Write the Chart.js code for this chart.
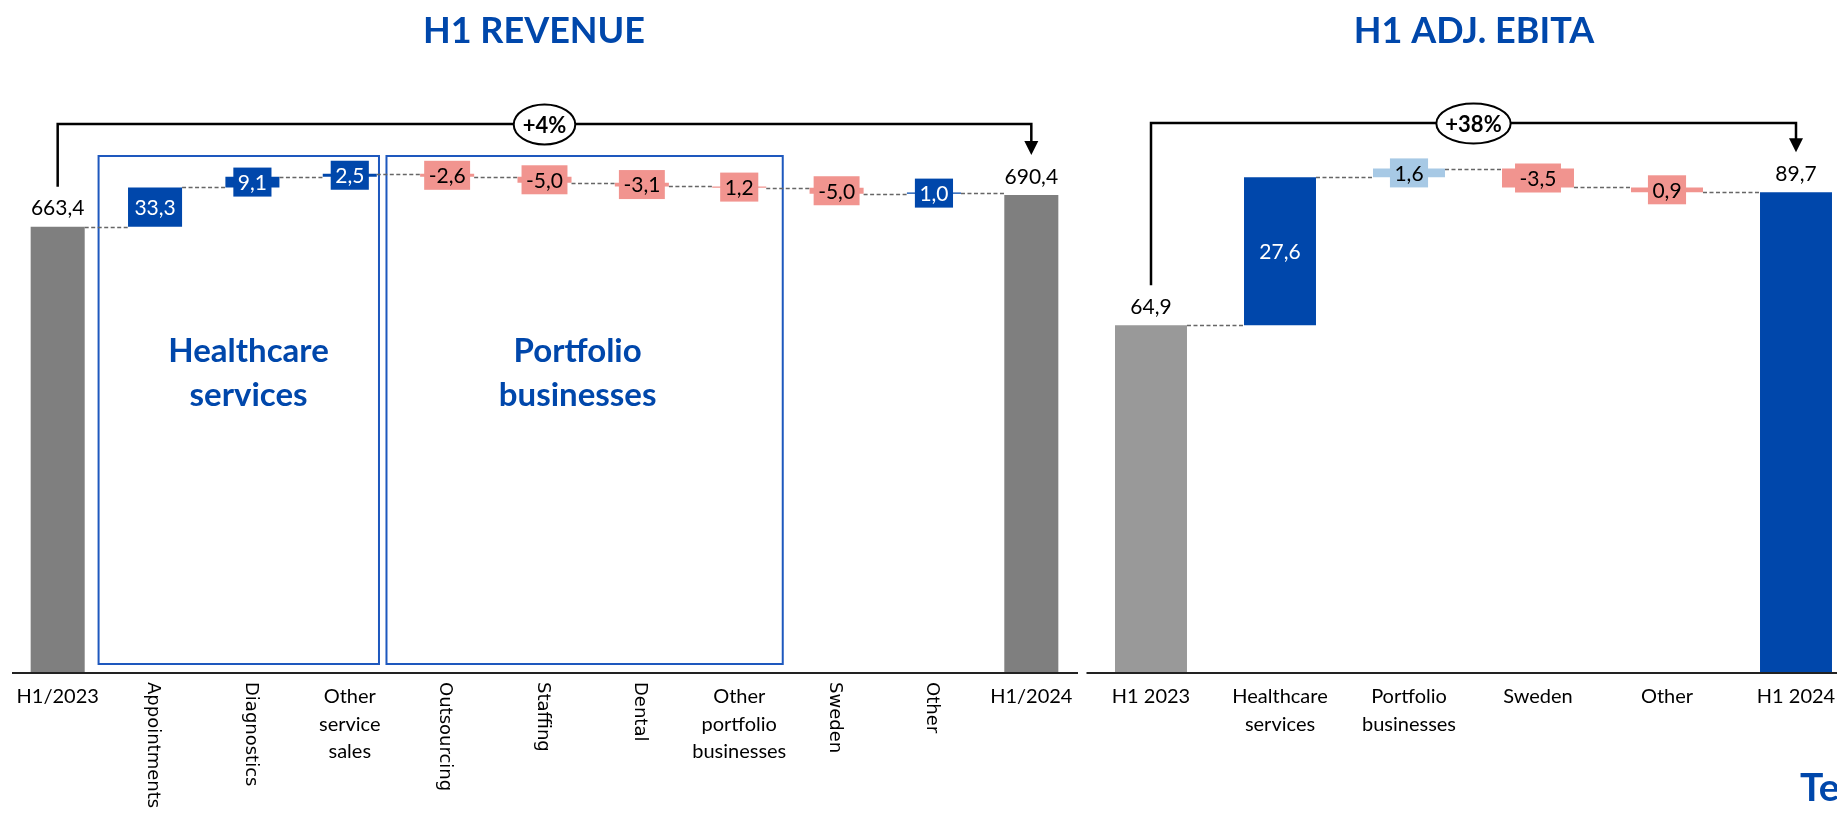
<!DOCTYPE html>
<html>
<head>
<meta charset="utf-8">
<script src="https://cdn.jsdelivr.net/npm/chart.js@4.4.1/dist/chart.umd.min.js"></script>
<style>
html,body{margin:0;padding:0;background:#fff;overflow:hidden;width:1837px;height:815px;position:relative;}
#wrapL{position:absolute;left:0;top:0;width:1084px;height:815px;}
#wrapR{position:absolute;left:1084px;top:0;width:780px;height:815px;}
#logo{position:absolute;left:1800px;top:767px;font:bold 39px Lato, sans-serif;line-height:39px;color:#0047AB;white-space:nowrap;}
</style>
</head>
<body>
<div id="wrapL"><canvas id="revChart" width="1084" height="815"></canvas></div>
<div id="wrapR"><canvas id="ebitaChart" width="780" height="815"></canvas></div>
<div id="logo">Te</div>
<script>
// ---------------- DATA ----------------
const revCategories = ['H1/2023', 'Appointments', 'Diagnostics', ['Other', 'service', 'sales'], 'Outsourcing', 'Staffing', 'Dental', ['Other', 'portfolio', 'businesses'], 'Sweden', 'Other', 'H1/2024'];
const revStart = 663.4;
const revDeltas = [33.3, 9.1, 2.5, -2.6, -5.0, -3.1, -1.2, -5.0, 1.0];
const revEnd = 690.4;
const revLabels = ['663,4', '33,3', '9,1', '2,5', '-2,6', '-5,0', '-3,1', '1,2', '-5,0', '1,0', '690,4'];
const revRotated = [false, true, true, false, true, true, true, false, true, true, false];
const revGrowth = '+4%';
const revGroupNames = [['Healthcare', 'services'], ['Portfolio', 'businesses']];

const ebitaCategories = ['H1 2023', ['Healthcare', 'services'], ['Portfolio', 'businesses'], 'Sweden', 'Other', 'H1 2024'];
const ebitaStart = 64.9;
const ebitaDeltas = [27.6, 1.6, -3.5, -0.9];
const ebitaEnd = 89.7;
const ebitaLabels = ['64,9', '27,6', '1,6', '-3,5', '0,9', '89,7'];
const ebitaGrowth = '+38%';

// ---------------- STYLES ----------------
const BLUE = '#0047AB', PINK = '#F1948F', LBLUE = '#A7C9E5', GREY = '#7F7F7F', GREY2 = '#999999';
const revColors = [GREY, BLUE, BLUE, BLUE, PINK, PINK, PINK, PINK, PINK, BLUE, GREY];
const ebitaColors = [GREY2, BLUE, LBLUE, PINK, PINK, BLUE];

function buildWaterfall(start, deltas, end) {
  const data = [start], ends = [start];
  let cum = start;
  deltas.forEach(d => { data.push([cum, cum + d]); cum += d; ends.push(cum); });
  data.push(end); ends.push(end);
  return { data, ends };
}

const wfPlugin = {
  id: 'wf',
  beforeDatasetsDraw(chart, args, o) {
    const ctx = chart.ctx, xs = chart.scales.x, ca = chart.chartArea;
    ctx.save();
    (o.groups || []).forEach(g => {
      const l = xs.getPixelForValue(g.from), r = xs.getPixelForValue(g.to);
      ctx.strokeStyle = '#1E58BE'; ctx.lineWidth = 2;
      ctx.strokeRect(l, o.groupTop, r - l, ca.bottom - o.groupBottomGap - o.groupTop);
      ctx.fillStyle = BLUE; ctx.font = 'bold 33px Lato'; ctx.textAlign = 'center'; ctx.textBaseline = 'alphabetic';
      const tx = xs.getPixelForValue(g.textAt);
      g.label.forEach((s, j) => ctx.fillText(s, tx, o.groupTextY + j * 44));
    });
    ctx.restore();
  },
  afterDatasetsDraw(chart, args, o) {
    const ctx = chart.ctx, xs = chart.scales.x, ys = chart.scales.y, ca = chart.chartArea;
    const els = chart.getDatasetMeta(0).data;
    const n = els.length;
    ctx.save();
    // axis line
    ctx.strokeStyle = '#222'; ctx.lineWidth = 2;
    ctx.beginPath(); ctx.moveTo(ca.left + o.axisInsetL, ca.bottom); ctx.lineTo(o.axisToEdge ? chart.width : ca.right - 2, ca.bottom); ctx.stroke();
    // connectors
    ctx.strokeStyle = '#666'; ctx.lineWidth = 1.5; ctx.setLineDash([4, 2.5]);
    for (let i = 0; i < n - 1; i++) {
      const y = Math.round(ys.getPixelForValue(o.ends[i])) + 0.5;
      const a = els[i].x + els[i].width / 2, b = els[i + 1].x - els[i + 1].width / 2;
      ctx.beginPath(); ctx.moveTo(a, y); ctx.lineTo(b, y); ctx.stroke();
    }
    ctx.setLineDash([]);
    // value labels
    ctx.font = '21px Lato'; ctx.textAlign = 'center'; ctx.textBaseline = 'middle';
    for (let i = 0; i < n; i++) {
      const el = els[i];
      const top = Math.min(el.y, el.base), bot = Math.max(el.y, el.base);
      const txt = o.labels[i], col = o.colors[i];
      const tcol = col === BLUE ? '#fff' : '#000';
      if (i === 0 || i === n - 1) { ctx.fillStyle = '#000'; ctx.fillText(txt, el.x, top - 18); continue; }
      const cy = (top + bot) / 2;
      if (bot - top >= 30) { ctx.fillStyle = tcol; ctx.fillText(txt, el.x, cy + 1); }
      else {
        const w = ctx.measureText(txt).width + 9;
        ctx.fillStyle = col; ctx.fillRect(el.x - w / 2, cy - 14.5, w, 29);
        ctx.fillStyle = tcol; ctx.fillText(txt, el.x, cy + 1);
      }
    }
    // category labels
    ctx.fillStyle = '#000';
    o.cats.forEach((lab, i) => {
      const x = xs.getPixelForValue(i);
      if (o.rotated && o.rotated[i]) {
        ctx.save(); ctx.translate(x - 2, 682); ctx.rotate(Math.PI / 2);
        ctx.font = '18px "DejaVu Sans"'; ctx.textAlign = 'left'; ctx.textBaseline = 'middle';
        ctx.fillText(lab, 0, 0); ctx.restore();
      } else {
        const lines = Array.isArray(lab) ? lab : [lab];
        ctx.font = '20px Lato'; ctx.textAlign = 'center'; ctx.textBaseline = 'alphabetic';
        lines.forEach((s, j) => ctx.fillText(s, x, 703 + j * 27.5));
      }
    });
    // growth bracket
    const x0 = els[0].x, x1 = els[n - 1].x;
    const t0 = Math.min(els[0].y, els[0].base), t1 = Math.min(els[n - 1].y, els[n - 1].base);
    const yl = o.bracketY;
    ctx.strokeStyle = '#000'; ctx.lineWidth = 2.5;
    ctx.beginPath(); ctx.moveTo(x0, t0 - 40); ctx.lineTo(x0, yl); ctx.lineTo(x1, yl); ctx.lineTo(x1, t1 - 52); ctx.stroke();
    ctx.fillStyle = '#000';
    ctx.beginPath(); ctx.moveTo(x1 - 7, t1 - 54); ctx.lineTo(x1 + 7, t1 - 54); ctx.lineTo(x1, t1 - 40); ctx.closePath(); ctx.fill();
    ctx.font = 'bold 22px Lato'; ctx.textAlign = 'center'; ctx.textBaseline = 'middle';
    const tw = ctx.measureText(o.growth).width;
    const cx = (x0 + x1) / 2;
    ctx.beginPath(); ctx.ellipse(cx, yl + 0.5, tw / 2 + 9, 20, 0, 0, Math.PI * 2);
    ctx.fillStyle = '#fff'; ctx.fill(); ctx.lineWidth = 2; ctx.stroke();
    ctx.fillStyle = '#000'; ctx.fillText(o.growth, cx, yl + 1.5);
    // title
    ctx.font = 'bold 36px Lato'; ctx.fillStyle = BLUE; ctx.textAlign = 'center'; ctx.textBaseline = 'alphabetic';
    ctx.fillText(o.title, o.titleX, 43);
    ctx.restore();
  }
};

function makeChart(id, cats, wfd, colors, labels, barPct, yMin, yMax, padding, extra) {
  return new Chart(document.getElementById(id), {
    type: 'bar',
    data: {
      labels: cats,
      datasets: [{ data: wfd.data, backgroundColor: colors, borderWidth: 0, categoryPercentage: 1, barPercentage: barPct }]
    },
    options: {
      responsive: false, animation: false, devicePixelRatio: 1,
      layout: { padding },
      scales: {
        x: { display: false, grid: { display: false } },
        y: { display: false, min: yMin, max: yMax, grid: { display: false } }
      },
      plugins: {
        legend: { display: false }, tooltip: { enabled: false }, title: { display: false },
        wf: Object.assign({ cats, ends: wfd.ends, colors, labels }, extra)
      }
    },
    plugins: [wfPlugin]
  });
}

const revWF = buildWaterfall(revStart, revDeltas, revEnd);
makeChart('revChart', revCategories, revWF, revColors, revLabels, 0.555, 285, 770,
  { left: 9, right: 4, top: 101, bottom: 142 },
  {
    rotated: revRotated, growth: revGrowth, bracketY: 124, title: 'H1 REVENUE', titleX: 534,
    axisInsetL: 3, axisToEdge: false,
    groupTop: 156, groupBottomGap: 9, groupTextY: 362,
    groups: [
      { label: revGroupNames[0], from: 0.42, to: 3.30, textAt: 1.96 },
      { label: revGroupNames[1], from: 3.377, to: 7.447, textAt: 5.34 }
    ]
  });

const ebitaWF = buildWaterfall(ebitaStart, ebitaDeltas, ebitaEnd);
makeChart('ebitaChart', ebitaCategories, ebitaWF, ebitaColors, ebitaLabels, 0.558, 0, 100,
  { left: 2.5, right: 3.5, top: 137, bottom: 142 },
  {
    rotated: null, growth: ebitaGrowth, bracketY: 123, title: 'H1 ADJ. EBITA', titleX: 390,
    axisInsetL: 0, axisToEdge: true, groups: []
  });
</script>
</body>
</html>
